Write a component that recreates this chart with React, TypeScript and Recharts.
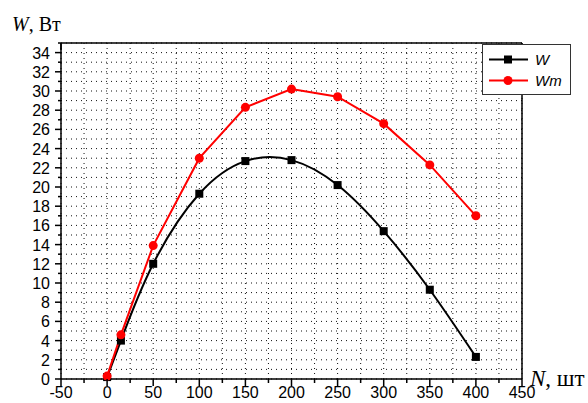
import React from "react";
import {
  LineChart,
  Line,
  XAxis,
  YAxis,
  CartesianGrid,
  Legend,
} from "recharts";

// number of items, pcs
const N_VALUES = [0, 15, 50, 100, 150, 200, 250, 300, 350, 400];
// power W, Вт
const W_VALUES = [0.2, 4.0, 12.0, 19.3, 22.7, 22.8, 20.2, 15.4, 9.3, 2.3];
const WM_VALUES = [0.3, 4.6, 13.9, 23.0, 28.3, 30.2, 29.4, 26.6, 22.3, 17.0];

const X_TICKS = Array.from({ length: 21 }, (_, i) => -50 + i * 25);
const Y_TICKS = Array.from({ length: 36 }, (_, i) => i);

const data = N_VALUES.map((n, i) => ({ n, W: W_VALUES[i], Wm: WM_VALUES[i] }));

const TICK_FONT = "'Liberation Sans', Arial, sans-serif";
const TITLE_FONT = "'Liberation Serif', 'Times New Roman', serif";

// bottom axis: outward ticks, labels every 50
const BottomTick = (props: any) => {
  const { x, y, payload } = props;
  const major = payload.value % 50 === 0;
  return (
    <g>
      <line x1={x} y1={y} x2={x} y2={y + (major ? 7 : 4)} stroke="#000" strokeWidth={1.5} />
      {major && (
        <text x={x} y={y + 19} textAnchor="middle" fontSize={16} fontFamily={TICK_FONT} fill="#000">
          {payload.value}
        </text>
      )}
    </g>
  );
};

const TopTick = (props: any) => {
  const { x, y, payload } = props;
  const major = payload.value % 50 === 0;
  return <line x1={x} y1={y} x2={x} y2={y + (major ? 7 : 4)} stroke="#000" strokeWidth={1.5} />;
};

const LeftTick = (props: any) => {
  const { x, y, payload } = props;
  const major = payload.value % 2 === 0;
  return (
    <g>
      <line x1={x} y1={y} x2={x - (major ? 6 : 3)} y2={y} stroke="#000" strokeWidth={1.5} />
      {major && payload.value <= 34 && (
        <text x={x - 11} y={y + 6} textAnchor="end" fontSize={16} fontFamily={TICK_FONT} fill="#000">
          {payload.value}
        </text>
      )}
    </g>
  );
};

const RightTick = (props: any) => {
  const { x, y, payload } = props;
  const major = payload.value % 2 === 0;
  return <line x1={x} y1={y} x2={x - (major ? 7 : 4)} y2={y} stroke="#000" strokeWidth={1.5} />;
};

const XTitle = (props: any) => {
  const { viewBox } = props;
  return (
    <text x={viewBox.x + viewBox.width + 8} y={viewBox.y + 7} fontSize={23} fontFamily={TITLE_FONT} fill="#000">
      <tspan fontStyle="italic">N</tspan>, шт
    </text>
  );
};

const YTitle = () => (
  <text x={12} y={31} fontSize={20} fontFamily={TITLE_FONT} fill="#000">
    <tspan fontStyle="italic">W</tspan>, Вт
  </text>
);

const LegendBox = () => (
  <svg width={89} height={51}>
    <rect x={0.5} y={0.5} width={88} height={50} fill="#fff" stroke="#333" strokeWidth={1} />
    <line x1={7} y1={15.5} x2={46} y2={15.5} stroke="#000" strokeWidth={2} />
    <rect x={22} y={11.5} width={8} height={8} fill="#000" />
    <text x={53} y={21} fontSize={15} fontStyle="italic" fontFamily={TICK_FONT}>W</text>
    <line x1={7} y1={36.5} x2={46} y2={36.5} stroke="#ff0000" strokeWidth={2} />
    <circle cx={26} cy={36.5} r={4.5} fill="#ff0000" />
    <text x={53} y={42} fontSize={15} fontStyle="italic" fontFamily={TICK_FONT}>Wm</text>
  </svg>
);

export default function App() {
  return (
    <div style={{ position: "absolute", left: 0, top: 0, background: "#fff" }}>
      <LineChart width={588} height={403} data={data} margin={{ top: 42, right: 65, bottom: 23, left: 60 }}>
        <CartesianGrid stroke="#111" strokeDasharray="1 4" strokeWidth={1} />
        <XAxis
          dataKey="n"
          type="number"
          domain={[-50, 450]}
          ticks={X_TICKS}
          interval={0}
          height={1}
          tickSize={0}
          tickMargin={0}
          tickLine={false}
          tick={<BottomTick />}
          axisLine={{ stroke: "#000", strokeWidth: 1.5 }}
          label={<XTitle />}
        />
        <XAxis
          xAxisId="top"
          orientation="top"
          type="number"
          domain={[-50, 450]}
          ticks={X_TICKS}
          interval={0}
          height={1}
          tickSize={0}
          tickMargin={0}
          tickLine={false}
          tick={<TopTick />}
          axisLine={{ stroke: "#000", strokeWidth: 1.5 }}
        />
        <YAxis
          type="number"
          domain={[0, 35]}
          ticks={Y_TICKS}
          interval={0}
          width={1}
          tickSize={0}
          tickMargin={0}
          tickLine={false}
          tick={<LeftTick />}
          axisLine={{ stroke: "#000", strokeWidth: 1.5 }}
          label={<YTitle />}
        />
        <YAxis
          yAxisId="right"
          orientation="right"
          type="number"
          domain={[0, 35]}
          ticks={Y_TICKS}
          interval={0}
          width={1}
          tickSize={0}
          tickMargin={0}
          tickLine={false}
          tick={<RightTick />}
          axisLine={{ stroke: "#000", strokeWidth: 1.5 }}
        />
        <Legend
          layout="horizontal"
          verticalAlign="middle"
          content={<LegendBox />}
          wrapperStyle={{ left: 482, top: 44, width: 89, height: 51 }}
        />
        <Line
          dataKey="W"
          type="natural"
          stroke="#000"
          strokeWidth={2}
          dot={(p: any) => (
            <rect key={`w-${p.index}`} x={p.cx - 4} y={p.cy - 4} width={8} height={8} fill="#000" />
          )}
          isAnimationActive={false}
        />
        <Line
          dataKey="Wm"
          type="linear"
          stroke="#ff0000"
          strokeWidth={2}
          dot={{ r: 4.5, fill: "#ff0000", stroke: "none" }}
          isAnimationActive={false}
        />
      </LineChart>
    </div>
  );
}
